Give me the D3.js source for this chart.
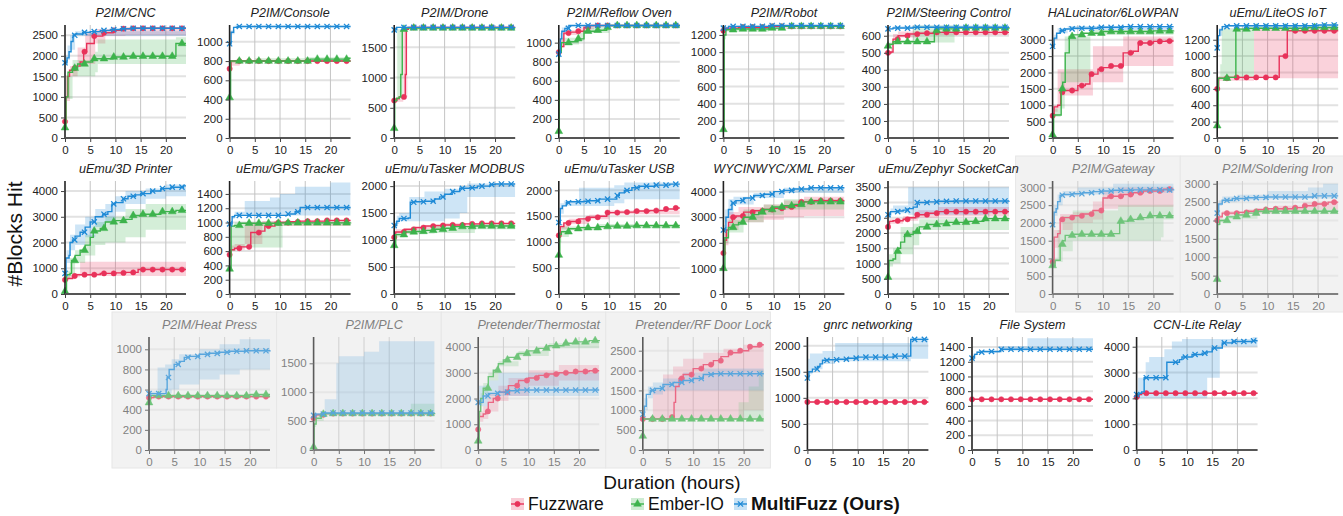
<!DOCTYPE html>
<html><head><meta charset="utf-8">
<script src="https://cdn.jsdelivr.net/npm/d3@7"></script>
<style>body{margin:0;background:#fff}svg{display:block;font-family:Arial,"Liberation Sans",sans-serif}</style>
</head><body><svg width="1343" height="516"></svg>
<script>
var titles = ["P2IM/CNC","P2IM/Console","P2IM/Drone","P2IM/Reflow Oven","P2IM/Robot","P2IM/Steering Control","HALucinator/6LoWPAN","uEmu/LiteOS IoT",
  "uEmu/3D Printer","uEmu/GPS Tracker","uEmu/uTasker MODBUS","uEmu/uTasker USB","WYCINWYC/XML Parser","uEmu/Zephyr SocketCan","P2IM/Gateway","P2IM/Soldering Iron",
  "P2IM/Heat Press","P2IM/PLC","Pretender/Thermostat","Pretender/RF Door Lock","gnrc networking","File System","CCN-Lite Relay"];
var yTop = [2750,1175,1870,1185,1316,663,3450,1380, 4390,1581,2095,2180,4415,3705,3180,3075, 1122,1955,4390,2845,2166,1537,4376];
var yStep = [500,200,500,200,200,100,500,200, 1000,200,500,500,1000,500,500,500, 200,500,1000,500,500,200,1000];
var grayPanels = [14,15,16,17,18,19];
var markerHours = [0,1.93,3.87,5.8,7.73,9.67,11.6,13.53,15.47,17.4,19.33,21.27,23.2];

var fuzzware = [
  [[0,400],[0.2,1000],[0.5,1500],[0.9,1650],[1.5,1700],[2,1750],[3,1850],[3.7,2100],[4.3,2300],[5.8,2480],[7.5,2560],[9.5,2620],[11.5,2660],[13,2670],[24,2670]],
  [[0,720],[0.3,800],[24,800]],
  [[0,620],[0.5,650],[1,680],[2,700],[2.2,1050],[2.4,1800],[2.8,1830],[24,1830]],
  [[0,900],[0.4,960],[1,1100],[2,1110],[3.8,1120],[5,1160],[6,1180],[24,1180]],
  [[0,1250],[0.4,1280],[3,1290],[9,1300],[24,1300]],
  [[0,500],[0.6,505],[1,580],[2,600],[4,610],[6,615],[9,620],[24,620]],
  [[0,680],[0.3,950],[1,1000],[1.6,1400],[2,1450],[4,1450],[5,1600],[6.5,1650],[7.4,1950],[9,2100],[10,2150],[11.5,2200],[13.6,2200],[14,2600],[16,2650],[17,2900],[20,2950],[22.5,2960],[24,2960]],
  [[0,600],[0.3,730],[2,740],[12.2,740],[12.3,1000],[13.8,1000],[13.9,1310],[24,1310]],
  [[0,550],[0.5,600],[1.5,700],[2,750],[6,760],[7,800],[10,820],[12,840],[14.5,950],[24,950]],
  [[0,550],[0.3,620],[1,640],[2,660],[4,670],[4.2,860],[6,880],[7,950],[9,1000],[12,1010],[14,1020],[19,1030],[24,1030]],
  [[0,1050],[0.3,1150],[2,1200],[4,1230],[6,1260],[8,1270],[10,1280],[14,1300],[17,1310],[24,1310]],
  [[0,1130],[0.3,1300],[1,1370],[2,1400],[4,1450],[6,1480],[8,1500],[9.5,1570],[12,1580],[15,1600],[18,1610],[21,1640],[23,1660],[24,1660]],
  [[0,1600],[0.3,2100],[0.6,2500],[1,2800],[1.8,3000],[2.5,3050],[4,3200],[6,3250],[8,3300],[10,3350],[12,3400],[14,3450],[15,3600],[18,3650],[24,3650]],
  [[0,2200],[0.3,2380],[1,2400],[3,2450],[4,2500],[5.5,2600],[8,2650],[10,2700],[24,2700]],
  [[0,900],[0.3,1600],[1,1700],[1.5,2100],[2,2150],[4,2200],[6,2250],[8,2350],[9.8,2400],[10,2700],[11,2750],[14,2800],[16,2850],[18,2900],[22,2950],[24,2950]],
  [[0,2000],[0.3,2100],[1,2200],[4,2220],[6,2250],[8,2300],[10,2320],[15,2350],[17,2400],[19,2450],[22,2500],[24,2500]],
  [[0,520],[1,530],[24,530]],
  [[0,550],[0.5,610],[2,630],[24,630]],
  [[0,800],[0.2,1300],[1,1400],[1.5,1500],[2,1850],[3,2000],[4,2250],[6,2500],[8,2700],[10,2800],[12,2900],[14,2950],[16,3000],[19,3050],[22,3080],[24,3080]],
  [[0,780],[5.5,780],[5.7,830],[6.2,1200],[6.5,1600],[7.2,1800],[8,1900],[10,2050],[12,2150],[14,2250],[15.5,2350],[17,2450],[19,2500],[21,2600],[23,2650],[24,2650]],
  [[0,920],[24,920]],
  [[0,690],[24,690]],
  [[0,2050],[0.5,2150],[1,2200],[24,2200]]
];
var fuzzwareBand = [
  [[0,400,500],[0.3,900,1500],[1,1500,1750],[2.5,1750,2200],[4,1800,2550],[6,2300,2650],[8,2480,2650],[12,2500,2700],[24,2500,2700]],
  [[0,700,750],[0.3,750,810],[2,790,810],[24,790,810]],
  [[0,600,640],[1.8,680,1800],[2.6,1800,1840],[24,1820,1840]],
  [[0,880,920],[0.5,950,1050],[1,1080,1130],[4,1100,1160],[5,1140,1185],[7,1175,1185],[24,1175,1185]],
  [[0,1240,1260],[0.4,1270,1290],[24,1290,1310]],
  [[0,495,510],[0.6,500,530],[1,570,610],[2,590,625],[6,605,625],[24,610,625]],
  [[0,600,750],[0.3,800,1000],[1,900,2100],[1.6,1300,2100],[8,1700,2800],[14,2200,3100],[24,2200,3100]],
  [[0,580,620],[0.3,700,750],[7.3,730,1340],[24,730,1340]],
  [[0,500,600],[0.5,580,700],[1.5,650,800],[3,700,1250],[24,700,1300]],
  [[0,500,600],[0.3,600,680],[1,620,700],[3,700,1000],[6.5,950,1020],[24,1000,1040]],
  [[0,1000,1100],[0.3,1120,1200],[4,1200,1260],[10,1260,1310],[24,1280,1330]],
  [[0,1100,1200],[0.3,1250,1350],[2,1350,1450],[6,1440,1530],[10,1540,1610],[24,1620,1700]],
  [[0,1500,1800],[0.3,1900,2400],[1,2500,3200],[3,2800,3400],[8,2900,3500],[12,3000,3650],[16,3050,3800],[24,3050,3800]],
  [[0,2150,2300],[0.3,2300,2450],[3,2400,2550],[6,2500,2750],[10,2550,2850],[24,2550,2850]],
  [[0,850,1000],[0.3,1300,1800],[1.5,1800,2250],[4,2000,2300],[8,2100,2600],[10,2400,2900],[13,2450,3000],[24,2500,3000]],
  [[0,1950,2050],[0.3,2050,2150],[1,2150,2250],[6,2200,2300],[12,2250,2400],[17,2300,2500],[24,2350,2550]],
  [[0,510,530],[1,520,545],[24,520,545]],
  [[0,530,570],[0.5,590,630],[2,620,640],[24,620,640]],
  [[0,700,900],[0.2,1100,1500],[1,1200,1700],[2,1500,2200],[4,1900,2500],[6,2100,2800],[10,2500,3100],[16,2700,3300],[24,2700,3500]],
  [[0,770,790],[2,780,1500],[4,780,1900],[6,780,2100],[8,780,2300],[12,780,2450],[16,780,2550],[20,1000,2650],[24,1500,2750]],
  [[0,905,935],[24,905,935]],
  [[0,680,700],[24,680,700]],
  [[0,2000,2100],[0.5,2120,2200],[1,2170,2230],[24,2170,2230]]
];
var emberio = [
  [[0,250],[0.2,1000],[0.6,1600],[1.5,1700],[2.5,1800],[4,1850],[5.5,1930],[9.5,1970],[12,1990],[21.5,1990],[22,2300],[24,2300]],
  [[0,420],[0.2,800],[15.5,800],[16,820],[23.5,830],[24,830]],
  [[0,160],[0.1,620],[0.5,660],[1,680],[1.3,1050],[1.6,1800],[2,1820],[24,1820]],
  [[0,70],[0.1,900],[0.5,1000],[2,1010],[3.8,1040],[5,1120],[7.5,1130],[9.5,1160],[10,1180],[24,1180]],
  [[0,100],[0.15,1200],[0.5,1260],[2,1270],[9,1280],[11.5,1280],[12,1300],[24,1300]],
  [[0,540],[0.3,550],[1,565],[9,565],[9.2,630],[10,640],[14,645],[24,650]],
  [[0,100],[0.2,700],[1.6,700],[1.7,1500],[2,1700],[2.5,2600],[3.3,3100],[4,3150],[6,3200],[10,3250],[20,3270],[24,3280]],
  [[0,150],[0.2,730],[2,740],[3.6,740],[3.7,1330],[6,1340],[18,1350],[24,1350]],
  [[0,100],[0.3,750],[1,800],[1.3,1300],[2,1500],[3,1700],[4,1900],[5,2200],[5.6,2450],[7,2550],[8,2800],[10,2850],[12,2900],[13.3,3050],[15,3100],[19,3200],[22,3250],[24,3250]],
  [[0,350],[0.3,950],[1,960],[2,990],[10,995],[24,1000]],
  [[0,900],[0.3,1100],[2,1150],[4,1160],[6,1180],[8,1200],[10,1220],[12,1250],[16,1260],[24,1260]],
  [[0,750],[0.2,1150],[0.5,1200],[2,1260],[4,1280],[8,1300],[10,1310],[15,1320],[24,1320]],
  [[0,1000],[0.3,2200],[1,2600],[2,2700],[3,2800],[4,3000],[6,3100],[7,3200],[8,3300],[10,3400],[12,3450],[14,3500],[16,3600],[24,3600]],
  [[0,550],[0.2,1100],[1,1150],[1.5,1400],[2,1500],[2.5,1700],[3.3,1950],[5,2050],[6.2,2200],[8,2280],[10,2300],[12,2350],[16,2380],[19,2470],[24,2480]],
  [[0,800],[0.5,950],[1.3,950],[1.5,1400],[2,1500],[2.5,1650],[4,1680],[11,1680],[12,1700],[13,1700],[13.3,2050],[15,2100],[17,2150],[19,2200],[24,2200]],
  [[0,400],[0.1,1900],[0.5,2000],[2,2100],[4,2150],[6,2200],[8,2250],[24,2250]],
  [[0,470],[0.3,540],[2,540],[20,550],[24,550]],
  [[0,50],[0.1,450],[0.5,550],[1.5,620],[2,630],[24,640]],
  [[0,350],[0.2,1500],[0.5,2000],[1,2400],[2,2850],[3,3100],[4,3350],[5,3500],[6,3600],[8,3750],[10,3850],[12,3950],[14,4050],[17,4150],[19,4200],[22,4250],[24,4270]],
  [[0,350],[0.1,780],[24,780]],
  null, null, null
];
var emberioBand = [
  [[0,200,400],[0.3,950,1500],[1.5,1500,1900],[6,1600,2100],[6.5,1800,2400],[21.5,1800,2400],[22,1800,2450],[24,1800,2450]],
  [[0,400,450],[0.2,780,810],[5,790,830],[15,790,840],[24,800,845]],
  [[0,150,200],[0.1,600,650],[0.6,650,1800],[1.7,1800,1830],[24,1810,1830]],
  [[0,60,80],[0.1,880,950],[0.5,980,1050],[4,1020,1100],[5,1100,1160],[7,1100,1170],[10,1170,1185],[24,1175,1185]],
  [[0,90,110],[0.15,1150,1230],[0.5,1240,1280],[9,1260,1290],[12,1290,1310],[24,1290,1310]],
  [[0,530,550],[0.3,540,560],[1,560,575],[5,560,660],[13,560,660],[13.2,640,655],[24,640,655]],
  [[0,80,150],[0.2,650,900],[1.6,900,2000],[2.4,1700,3100],[7.5,3150,3300],[24,3200,3320]],
  [[0,130,170],[0.2,720,750],[0.6,740,900],[0.9,740,1340],[7.3,1330,1360],[24,1340,1360]],
  [[0,80,150],[0.3,600,900],[1,700,1400],[2,1200,1700],[4,1500,2300],[6,1900,2800],[8,2000,3000],[12,2200,3300],[16,2500,3500],[24,2550,3600]],
  [[0,330,380],[0.3,600,970],[1,650,1000],[10.5,960,1010],[24,980,1010]],
  [[0,850,950],[0.3,1050,1150],[2,1120,1200],[8,1130,1260],[16,1200,1300],[24,1230,1300]],
  [[0,700,800],[0.2,1000,1250],[0.5,1100,1300],[2,1230,1300],[8,1270,1350],[24,1280,1360]],
  [[0,900,1200],[0.3,2000,2500],[1,2400,2900],[4,2800,3300],[8,3100,3500],[12,3300,3700],[24,3450,3750]],
  [[0,500,600],[0.2,900,1300],[1,1000,1500],[2.5,1300,2200],[5,1600,2300],[6.2,2100,2450],[24,2150,2600]],
  [[0,750,900],[0.5,900,1000],[1,900,1800],[2,1200,2200],[4,1500,2350],[13,1500,2500],[21.5,1600,2500],[22,2100,2500],[24,2100,2500]],
  [[0,380,420],[0.1,1850,1950],[0.5,1950,2050],[2,2050,2150],[8,2200,2300],[24,2200,2300]],
  [[0,460,490],[0.3,520,555],[2,530,555],[20,535,565],[24,535,565]],
  [[0,30,70],[0.1,400,550],[0.5,500,620],[2,620,645],[19,625,650],[19.3,620,800],[24,620,800]],
  [[0,300,400],[0.2,1300,1700],[0.5,1800,2200],[1,2200,2600],[2,2700,3000],[4,3250,3450],[8,3650,3850],[14,3950,4150],[24,4180,4370]],
  [[0,330,380],[0.1,770,790],[18,770,790],[19,770,1200],[21,770,1600],[23,770,2000],[24,770,2000]],
  null, null, null
];
var multifuzz = [
  [[0,1830],[0.4,1950],[0.8,2100],[1.2,2350],[1.6,2500],[2,2530],[3.5,2570],[5,2590],[7,2620],[9,2640],[11,2660],[13,2670],[24,2670]],
  [[0,980],[0.3,1100],[0.8,1150],[1.5,1160],[24,1160]],
  [[0,1790],[0.5,1830],[24,1830]],
  [[0,880],[0.3,1040],[0.6,1120],[1.2,1150],[2,1180],[24,1180]],
  [[0,1280],[1,1300],[9,1310],[24,1310]],
  [[0,640],[1,645],[5,650],[24,650]],
  [[0,2800],[0.3,3050],[0.8,3200],[1.5,3280],[2.5,3330],[4,3350],[9,3380],[14,3400],[24,3400]],
  [[0,1100],[0.2,1250],[0.5,1320],[1,1360],[2,1370],[19,1370],[20,1380],[24,1380]],
  [[0,800],[0.2,1400],[0.8,1500],[1,2000],[1.5,2100],[2,2250],[3,2400],[4,2600],[5,2800],[6,3000],[7.5,3100],[8.5,3200],[9.3,3500],[10,3550],[11.5,3700],[12.5,3800],[14,3850],[15,3900],[17,4000],[19,4100],[21,4150],[23.5,4200],[24,4200]],
  [[0,980],[0.5,1080],[1,1100],[11,1100],[11.5,1120],[13,1150],[14,1210],[24,1210]],
  [[0,1270],[0.5,1350],[1,1400],[2.8,1410],[3.2,1700],[4,1710],[6,1720],[8,1760],[9,1800],[10,1850],[11.5,1900],[13,1960],[15,1970],[16.5,2000],[19,2030],[20,2040],[24,2040]],
  [[0,1380],[0.3,1650],[0.7,1700],[1.5,1760],[2,1780],[5,1790],[6,1800],[8,1830],[11,1830],[11.5,1900],[12,1950],[13,2000],[14.5,2050],[16,2080],[19,2100],[22,2120],[24,2120]],
  [[0,2500],[0.5,3000],[1,3300],[1.7,3550],[2.5,3650],[4,3750],[6,3850],[8,3900],[10,4000],[12,4050],[14,4100],[17,4150],[24,4150]],
  [[0,2600],[0.5,2700],[2,2720],[3,2750],[4,2800],[5,2850],[5.8,3000],[8,3020],[10,3040],[13,3050],[24,3060]],
  [[0,1950],[0.3,2300],[0.7,2400],[1,2600],[1.5,2780],[2,2800],[4,2820],[6,2850],[8,2880],[10,2900],[12,2920],[16,2930],[24,2950]],
  [[0,2200],[0.3,2450],[1,2550],[3,2600],[6,2620],[8,2630],[10,2640],[19,2670],[24,2670]],
  [[0,560],[3.3,560],[3.4,600],[3.6,720],[4,800],[5,850],[6,880],[7,920],[8,930],[10,950],[12,960],[14,970],[16,980],[19,985],[24,990]],
  [[0,600],[0.5,620],[2,640],[24,640]],
  [[0,1850],[1,2100],[2,2200],[4,2250],[6,2300],[8,2330],[24,2330]],
  [[0,900],[0.3,1100],[0.7,1400],[1.5,1500],[2.5,1550],[4,1650],[6,1700],[8,1750],[10,1800],[12,1900],[14,1920],[24,1920]],
  [[0,1380],[0.3,1500],[1,1550],[2,1600],[2.5,1650],[3,1720],[4,1730],[6,1740],[8,1760],[10,1780],[16,1780],[17,1800],[20.4,1800],[20.5,2120],[24,2120]],
  [[0,1250],[0.5,1300],[1,1330],[2,1340],[5.5,1340],[5.7,1370],[24,1370]],
  [[0,2150],[0.5,2200],[1,2250],[1.5,2800],[5.9,2800],[6,3400],[8,3400],[8.5,3500],[9,3600],[11,3700],[13,3750],[14,3800],[15,3950],[16.5,3950],[17,4150],[19,4200],[23,4230],[24,4230]]
];
var multifuzzBand = [
  [[0,1800,2000],[0.5,1900,2250],[1,2150,2500],[2,2480,2600],[24,2630,2700]],
  [[0,960,1000],[0.3,1080,1120],[1,1150,1170],[24,1150,1170]],
  [[0,1780,1810],[0.5,1820,1840],[24,1820,1840]],
  [[0,870,900],[0.3,1000,1100],[0.6,1100,1160],[1.2,1130,1180],[2,1170,1185],[24,1175,1185]],
  [[0,1270,1290],[1,1290,1310],[9,1300,1316],[24,1300,1316]],
  [[0,635,645],[1,640,655],[5,645,660],[24,645,660]],
  [[0,2750,2850],[0.3,3000,3150],[1,3200,3350],[3,3300,3420],[24,3360,3440]],
  [[0,1080,1120],[0.3,1250,1340],[1,1350,1375],[2,1360,1380],[24,1365,1385]],
  [[0,700,1000],[0.3,1200,1700],[1,1700,2300],[2,1900,2700],[4,2200,3000],[6,2600,3300],[8,2800,3500],[10,3200,3800],[12,3500,4000],[16,3700,4100],[20,3800,4250],[24,3850,4300]],
  [[0,960,1000],[0.5,1050,1100],[1,1100,1150],[3,1100,1300],[8,1100,1350],[10,1100,1400],[13,1100,1500],[20,1100,1560],[24,1100,1580]],
  [[0,1200,1350],[0.5,1300,1450],[1,1350,1500],[3,1350,1800],[6,1350,1900],[10,1400,1950],[13,1500,2000],[14.5,1800,2050],[24,1800,2060]],
  [[0,1300,1450],[0.3,1550,1750],[1,1700,1800],[4,1700,2050],[11,1750,2100],[13,1830,2150],[24,1830,2170]],
  [[0,2400,2700],[0.3,2800,3300],[1,3100,3700],[2,3500,3800],[6,3750,3950],[12,3950,4150],[24,4050,4250]],
  [[0,2500,2700],[0.5,2650,2800],[1,2650,2900],[4,2600,3500],[20,2650,3500],[24,2700,3550]],
  [[0,1900,2100],[0.3,2200,2500],[1,2500,2800],[2,2750,2900],[5,2800,3000],[12,2850,3100],[24,2850,3150]],
  [[0,2150,2250],[0.3,2400,2550],[1,2500,2650],[4,2550,2700],[10,2580,2800],[18,2600,2900],[21,2600,3000],[24,2600,3050]],
  [[0,545,580],[1.5,545,580],[1.7,545,820],[3.2,560,850],[4.5,600,900],[6,650,950],[10,700,1000],[14,750,1050],[18,800,1100],[24,800,1110]],
  [[0,590,640],[2,600,650],[2.2,600,880],[4.5,600,1500],[5,600,1620],[10,600,1700],[13,600,1880],[24,600,1920]],
  [[0,1700,2500],[2,2100,2700],[4,2100,3000],[24,2050,3000]],
  [[0,850,1000],[0.3,1000,1300],[1,1300,1600],[2,1400,1700],[4,1500,1800],[8,1500,1950],[12,1500,2050],[24,1500,2050]],
  [[0,1400,1750],[0.5,1450,1850],[1,1550,1850],[3,1650,1900],[5.5,1700,2050],[20.5,1750,2150],[24,1750,2150]],
  [[0,1240,1260],[0.5,1290,1320],[1,1320,1345],[5.5,1350,1410],[11,1350,1520],[24,1350,1530]],
  [[0,2000,2150],[0.3,2000,2800],[1.8,2000,3400],[2.5,2000,3600],[5.5,2000,3900],[7,2000,4200],[9,2000,4300],[14,2800,4300],[16.5,4000,4300],[23,4000,4400],[24,4000,4400]]
];

var series = [
  {name:"Fuzzware", line:fuzzware, band:fuzzwareBand, color:"#e8325a", marker:"circle"},
  {name:"Ember-IO", line:emberio, band:emberioBand, color:"#3db34c", marker:"triangle"},
  {name:"MultiFuzz (Ours)", line:multifuzz, band:multifuzzBand, color:"#1f8ad6", marker:"cross"}
];

var svg = d3.select("svg");
var boxW = 164.6, boxH = 156, plotW = 121, plotH = 113;

function boxPos(i){
  if (i < 8) return {x: 28 + i*boxW, y: 0};
  if (i < 16) return {x: 28 + (i-8)*boxW, y: 156};
  return {x: 112 + (i-16)*boxW, y: 312};
}
function valueAt(pts, t){
  var v = pts[0][1];
  for (var k=0; k<pts.length; k++) if (pts[k][0] <= t) v = pts[k][1];
  return v;
}
function markerPath(type){
  if (type == "circle") return d3.symbol(d3.symbolCircle, 22)();
  if (type == "triangle") return d3.symbol(d3.symbolTriangle, 26)();
  return "M-2.6,-2.6L2.6,2.6M-2.6,2.6L2.6,-2.6";
}

// gray backdrops first
grayPanels.forEach(function(i){
  var b = boxPos(i);
  svg.append("rect").attr("x", b.x).attr("y", b.y).attr("width", boxW).attr("height", boxH)
    .attr("fill", "#f2f2f2").attr("stroke", "#e6e6e6").attr("stroke-width", 1);
});

titles.forEach(function(title, i){
  var b = boxPos(i);
  var gray = grayPanels.indexOf(i) >= 0;
  var g = svg.append("g").attr("transform", "translate(" + (b.x+37) + "," + (b.y+25) + ")")
    .attr("opacity", gray ? 0.72 : 1);
  var x = d3.scaleLinear().domain([0, 24]).range([0, plotW]);
  var y = d3.scaleLinear().domain([0, yTop[i]]).range([plotH, 0]);
  var yt = d3.range(0, yTop[i] + 1, yStep[i]);

  // grid
  g.selectAll(".hg").data(yt.slice(1)).enter().append("line")
    .attr("x1", 0).attr("x2", plotW).attr("y1", y).attr("y2", y)
    .attr("stroke", "#e2e2e2").attr("stroke-width", 2);
  g.selectAll(".vg").data([5,10,15,20]).enter().append("line")
    .attr("x1", x).attr("x2", x).attr("y1", 0).attr("y2", plotH)
    .attr("stroke", "#c4c4c4").attr("stroke-width", 1);

  var clipId = "c" + i;
  g.append("clipPath").attr("id", clipId).append("rect").attr("width", plotW).attr("height", plotH);
  var plot = g.append("g").attr("clip-path", "url(#" + clipId + ")");

  var area = d3.area().curve(d3.curveStepAfter)
    .x(function(d){ return x(d[0]); }).y0(function(d){ return y(d[1]); }).y1(function(d){ return y(d[2]); });
  var line = d3.line().curve(d3.curveStepAfter)
    .x(function(d){ return x(d[0]); }).y(function(d){ return y(d[1]); });

  series.forEach(function(s){
    if (!s.band[i]) return;
    plot.append("path").attr("d", area(s.band[i])).attr("fill", s.color).attr("fill-opacity", 0.22);
  });
  series.forEach(function(s){
    if (!s.line[i]) return;
    var pts = s.line[i];
    g.append("path").attr("d", line(pts)).attr("fill", "none").attr("stroke", s.color).attr("stroke-width", 1.4);
    g.selectAll(".m").data(markerHours).enter().append("path")
      .attr("transform", function(t){ return "translate(" + x(t) + "," + y(valueAt(pts, t)) + ")"; })
      .attr("d", markerPath(s.marker))
      .attr("fill", s.marker == "cross" ? "none" : s.color)
      .attr("stroke", s.color).attr("stroke-width", s.marker == "cross" ? 1.3 : 0.5);
  });

  // axes
  var textCol = gray ? "#555" : "#222";
  var ya = g.append("g").call(d3.axisLeft(y).tickValues(yt).tickSize(4).tickPadding(3).tickFormat(d3.format("d")));
  ya.select(".domain").attr("stroke", "#222").attr("stroke-width", 1.6).attr("d", "M0," + plotH + "V0");
  ya.selectAll(".tick line").attr("stroke", "#444");
  ya.selectAll("text").attr("font-size", 11.5).attr("fill", textCol).attr("font-family", null);
  var xa = g.append("g").attr("transform", "translate(0," + plotH + ")")
    .call(d3.axisBottom(x).tickValues([0,5,10,15,20]).tickSize(4).tickPadding(4));
  xa.select(".domain").attr("stroke", "#555").attr("stroke-width", 2).attr("d", "M0,0H" + plotW);
  xa.selectAll(".tick line").attr("stroke", "#444");
  xa.selectAll("text").attr("font-size", 11.5).attr("fill", textCol).attr("font-family", null);

  g.append("text").attr("x", plotW/2).attr("y", -8).attr("text-anchor", "middle")
    .attr("font-size", 12.6).attr("font-style", "italic").attr("fill", textCol).text(title);
});

svg.append("text").attr("transform", "translate(22,234) rotate(-90)").attr("text-anchor", "middle")
  .attr("font-size", 21).attr("fill", "#111").text("#Blocks Hit");
svg.append("text").attr("x", 672).attr("y", 489).attr("text-anchor", "middle")
  .attr("font-size", 19).attr("fill", "#111").text("Duration (hours)");

var legendX = [511, 631, 734];
series.forEach(function(s, k){
  var lg = svg.append("g").attr("transform", "translate(" + legendX[k] + ",504)");
  lg.append("rect").attr("x", 0).attr("y", -6).attr("width", 13).attr("height", 12)
    .attr("fill", s.color).attr("fill-opacity", 0.25);
  lg.append("line").attr("x1", 0).attr("x2", 13).attr("stroke", s.color).attr("stroke-width", 1.4);
  lg.append("path").attr("transform", "translate(6.5,0)").attr("d", markerPath(s.marker))
    .attr("fill", s.marker == "cross" ? "none" : s.color).attr("stroke", s.color)
    .attr("stroke-width", s.marker == "cross" ? 1.3 : 0.5);
  lg.append("text").attr("x", 17).attr("y", 6).attr("font-size", k == 2 ? 19 : 17.5).attr("fill", "#111")
    .attr("font-weight", k == 2 ? "bold" : null).text(s.name);
});
</script></body></html>
